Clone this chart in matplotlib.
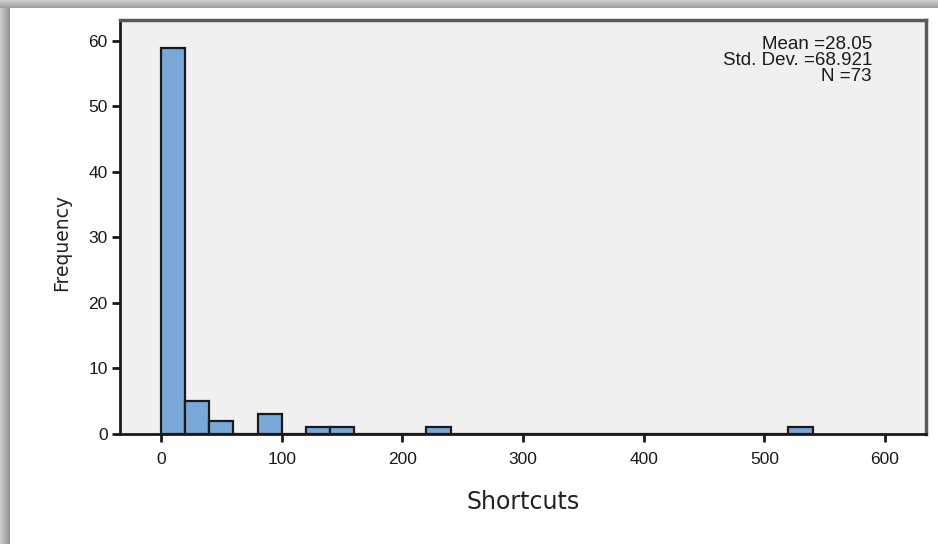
import numpy as np
import matplotlib
matplotlib.use("Agg")
import matplotlib.pyplot as plt

# Histogram of shortcut counts (bin width 20)
bin_edges = [0, 20, 40, 60, 80, 100, 120, 140, 160, 180, 200, 220, 240,
             260, 280, 300, 320, 340, 360, 380, 400, 420, 440, 460, 480,
             500, 520, 540]
frequencies = [59, 5, 2, 0, 3, 0, 1, 1, 0, 0, 0, 1, 0,
               0, 0, 0, 0, 0, 0, 0, 0, 0, 0, 0, 0, 0, 1]
x_ticks = [0, 100, 200, 300, 400, 500, 600]
y_ticks = [0, 10, 20, 30, 40, 50, 60]
stats_lines = ["Mean =28.05", "Std. Dev. =68.921", "N =73"]

W, H = 938, 544
fig = plt.figure(figsize=(W / 100, H / 100), dpi=100)
fig.patch.set_facecolor("white")

# Window frame shading along the top and left edges
bg = fig.add_axes([0, 0, 1, 1], zorder=-10)
bg.set_axis_off()
img = np.ones((H, W))
top = 8
left = 10
for i in range(top):
    img[i, :] = 0.80 - 0.18 * (i / (top - 1))
for j in range(left):
    img[top:, j] = np.minimum(img[top:, j], 0.80 - 0.22 * (j / (left - 1)))
bg.imshow(img, cmap="gray", vmin=0, vmax=1, aspect="auto",
          extent=[0, W, H, 0], interpolation="bilinear")
bg.set_xlim(0, W)
bg.set_ylim(H, 0)

ax = fig.add_axes([120 / W, 1 - 434 / H, (926 - 120) / W, (434 - 20) / H])
ax.set_facecolor("#F0F0F0")

widths = np.diff(bin_edges)
ax.bar(bin_edges[:-1], frequencies, width=widths, align="edge",
       color="#79A8D8", edgecolor="#1a1a1a", linewidth=1.6, zorder=3)

ax.set_xlim(-34, 634)
ax.set_ylim(0, 63.2)
ax.set_xticks(x_ticks)
ax.set_yticks(y_ticks)

tick_font = dict(family="Liberation Sans", size=12.5)
ax.set_xticklabels([str(v) for v in x_ticks], **tick_font)
ax.set_yticklabels([str(v) for v in y_ticks], **tick_font)
ax.tick_params(axis="x", pad=7)
ax.tick_params(axis="y", pad=3)
ax.tick_params(axis="both", direction="out", length=6, width=2,
               color="#1a1a1a", labelcolor="#1a1a1a")

for side in ("left", "bottom"):
    ax.spines[side].set_linewidth(2)
    ax.spines[side].set_color("#1a1a1a")
for side in ("top", "right"):
    ax.spines[side].set_linewidth(2.5)
    ax.spines[side].set_color("#5a5a5a")

ax.set_xlabel("Shortcuts", family="DejaVu Sans", size=17, color="#222222")
ax.set_ylabel("Frequency", family="DejaVu Sans", size=13.5, color="#222222")
ax.xaxis.set_label_coords(0.5, -0.165)
ax.yaxis.set_label_coords(-0.072, 0.462)
ax.xaxis.label.set_va("center")
ax.yaxis.label.set_va("center")

ax.text(0.933, 0.962, "\n".join(stats_lines), transform=ax.transAxes,
        ha="right", va="top", family="Liberation Sans", size=13.5,
        color="#1a1a1a", linespacing=0.95)

fig.savefig("out.png", dpi=100, facecolor="white")
